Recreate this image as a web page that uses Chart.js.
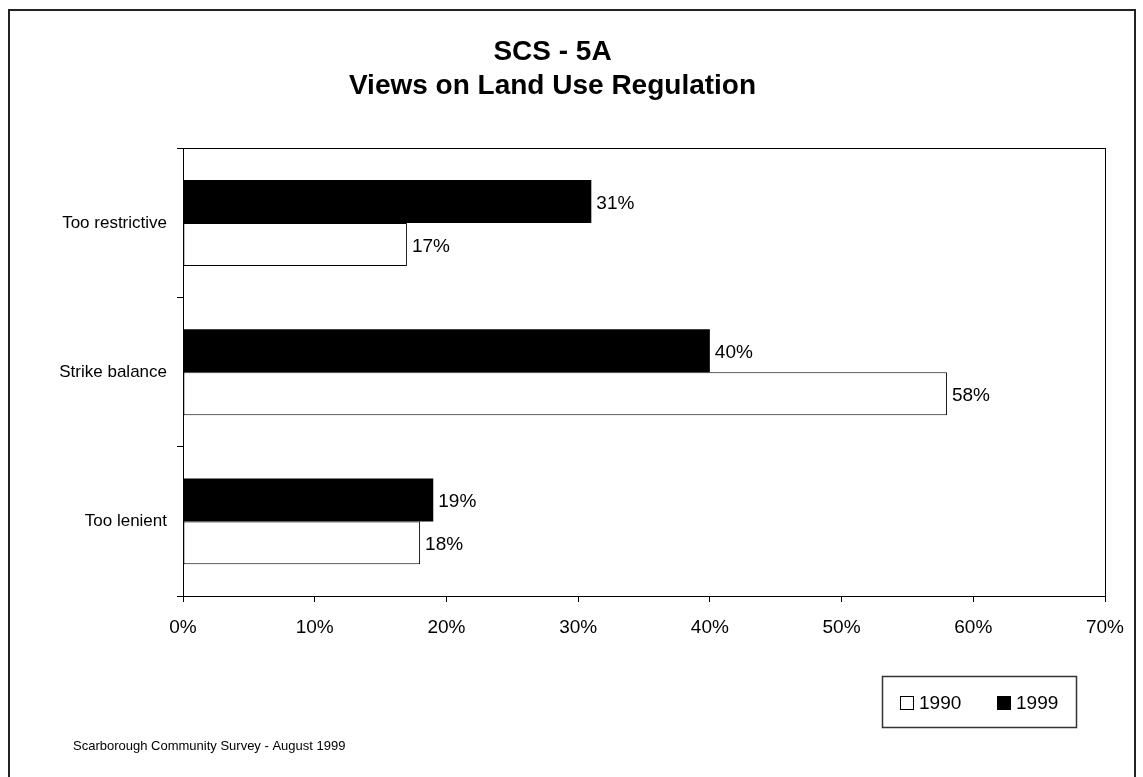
<!DOCTYPE html>
<html>
<head>
<meta charset="utf-8">
<script src="https://cdn.jsdelivr.net/npm/chart.js@4.4.1/dist/chart.umd.min.js"></script>
<style>
  body { margin: 0; background: #fff; }
  canvas { display: block; }
</style>
</head>
<body>
<canvas id="landUse" width="1143" height="777"></canvas>
<script>
const categories = ['Too restrictive', 'Strike balance', 'Too lenient'];
const seriesNames = ['1999', '1990'];
const values1999 = [31, 40, 19];
const values1990 = [17, 58, 18];
const xMin = 0, xMax = 70, xStep = 10;
const titleLines = ['SCS - 5A', 'Views on Land Use Regulation'];
const footnote = 'Scarborough Community Survey - August 1999';

const FONT = '"Liberation Sans", Arial, sans-serif';

// plot frame, outer frame, value labels, legend box and footnote
const extras = {
    id: 'extras',
    afterDatasetsDraw(chart) {
        const ctx = chart.ctx;
        ctx.save();
        ctx.font = '19px ' + FONT;
        ctx.fillStyle = '#000';
        ctx.textAlign = 'left';
        ctx.textBaseline = 'middle';
        chart.data.datasets.forEach((ds, i) => {
            chart.getDatasetMeta(i).data.forEach((bar, j) => {
                ctx.fillText(ds.data[j] + '%', bar.x + 5, bar.y + 2);
            });
        });
        ctx.restore();
    },
    afterDraw(chart) {
        const ctx = chart.ctx;
        const a = chart.chartArea;
        ctx.save();
        ctx.strokeStyle = '#000';
        ctx.lineWidth = 1;
        ctx.strokeRect(Math.round(a.left) + 0.5, Math.round(a.top) + 0.5,
            Math.round(a.right - a.left), Math.round(a.bottom - a.top));

        // outer frame (bottom edge is off the picture)
        ctx.strokeStyle = '#222';
        ctx.lineWidth = 2;
        ctx.beginPath();
        ctx.moveTo(9, 790);
        ctx.lineTo(9, 10);
        ctx.lineTo(1135, 10);
        ctx.lineTo(1135, 790);
        ctx.stroke();

        // legend, 1990 first
        ctx.strokeStyle = '#333';
        ctx.lineWidth = 1.5;
        ctx.strokeRect(882.5, 676.5, 194, 51);
        ctx.font = '19px ' + FONT;
        ctx.textBaseline = 'middle';
        ctx.fillStyle = '#000';
        const items = chart.data.datasets.slice().reverse();
        const xs = [900, 997];
        items.forEach((ds, k) => {
            const x = xs[k];
            ctx.fillStyle = ds.backgroundColor;
            ctx.fillRect(x, 696, 13, 14);
            ctx.strokeStyle = '#000';
            ctx.lineWidth = 1;
            ctx.strokeRect(x + 0.5, 696.5, 13, 13);
            ctx.fillStyle = '#000';
            ctx.fillText(ds.label, x + 19, 704);
        });

        ctx.font = '13px ' + FONT;
        ctx.fillText(footnote, 73, 746);
        ctx.restore();
    }
};

new Chart(document.getElementById('landUse'), {
    type: 'bar',
    data: {
        labels: categories,
        datasets: [{
            label: seriesNames[0],
            data: values1999,
            backgroundColor: '#000',
            borderWidth: 0
        }, {
            label: seriesNames[1],
            data: values1990,
            backgroundColor: '#fff',
            borderColor: '#000',
            borderWidth: 1,
            borderSkipped: false
        }]
    },
    options: {
        indexAxis: 'y',
        responsive: false,
        animation: false,
        devicePixelRatio: 1,
        categoryPercentage: 0.576,
        barPercentage: 1,
        layout: { padding: { left: 0, right: 38, top: 0, bottom: 0 } },
        plugins: {
            legend: { display: false },
            tooltip: { enabled: false },
            title: {
                display: true,
                text: titleLines,
                color: '#000',
                font: { family: FONT, size: 28, weight: 'bold', lineHeight: 1.22 },
                padding: { top: 35, bottom: 45 }
            }
        },
        scales: {
            x: {
                min: xMin,
                max: xMax,
                afterFit: (s) => { s.height = 181; },
                border: { color: '#000', width: 1 },
                grid: { drawOnChartArea: false, drawTicks: true, tickLength: 6, color: '#000' },
                ticks: {
                    stepSize: xStep,
                    color: '#000',
                    padding: 14,
                    font: { family: FONT, size: 19 },
                    callback: (v) => v + '%'
                }
            },
            y: {
                afterFit: (s) => { s.width = 183; },
                border: { color: '#000', width: 1 },
                grid: { drawOnChartArea: false, drawTicks: true, tickLength: 6, color: '#000' },
                ticks: {
                    color: '#000',
                    padding: 10,
                    font: { family: FONT, size: 17 }
                }
            }
        }
    },
    plugins: [extras]
});
</script>
</body>
</html>
